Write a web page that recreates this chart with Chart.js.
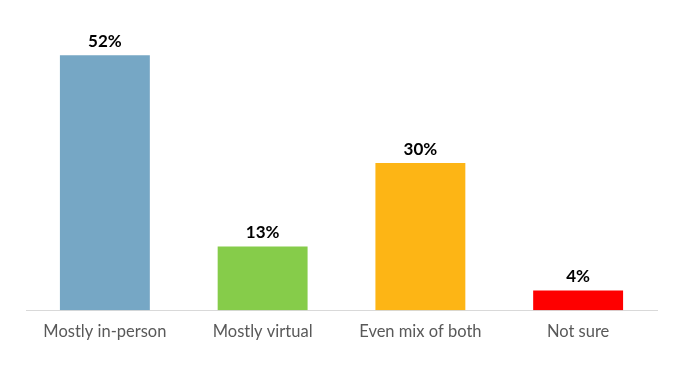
<!DOCTYPE html>
<html>
<head>
<meta charset="utf-8">
<script src="https://cdn.jsdelivr.net/npm/chart.js@4"></script>
<style>
html,body{margin:0;padding:0;background:#fff;}
#wrap{width:694px;height:385px;position:relative;}
</style>
</head>
<body>
<div id="wrap"><canvas id="c" width="694" height="385"></canvas></div>
<script>
const categories = ["Mostly in-person", "Mostly virtual", "Even mix of both", "Not sure"];
const values = [52, 13, 30, 4];
const barColors = ["#76a7c5", "#86cc4a", "#fdb515", "#fe0000"];

const valueLabels = {
  id: 'valueLabels',
  afterDatasetsDraw(chart) {
    const ctx = chart.ctx;
    const meta = chart.getDatasetMeta(0);
    ctx.save();
    ctx.font = 'bold 17px Lato, "Liberation Sans", sans-serif';
    ctx.fillStyle = '#000';
    ctx.textAlign = 'center';
    ctx.textBaseline = 'middle';
    meta.data.forEach((bar, i) => {
      ctx.fillText(values[i] + '%', bar.x, bar.y - 14);
    });
    ctx.restore();
  }
};

new Chart(document.getElementById('c'), {
  type: 'bar',
  data: {
    labels: categories,
    datasets: [{
      data: values,
      backgroundColor: barColors,
      borderWidth: 0,
      categoryPercentage: 1,
      barPercentage: 0.57
    }]
  },
  options: {
    responsive: false,
    animation: false,
    layout: { padding: { left: 26, right: 37, top: 16, bottom: 31 } },
    plugins: { legend: { display: false }, tooltip: { enabled: false } },
    scales: {
      y: { display: false, min: 0, max: 60 },
      x: {
        grid: { display: false, drawTicks: false },
        border: { display: true, color: '#d9d9d9', width: 1 },
        ticks: {
          color: '#595959',
          padding: 12,
          font: { size: 16.5, family: 'Lato, "Liberation Sans", sans-serif' }
        }
      }
    }
  },
  plugins: [valueLabels]
});
</script>
</body>
</html>
